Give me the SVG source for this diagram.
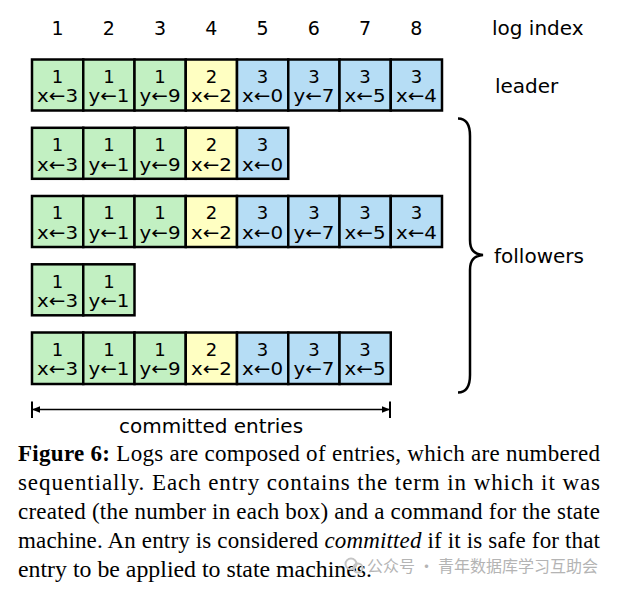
<svg xmlns="http://www.w3.org/2000/svg" width="619" height="592" viewBox="0 0 619 592">
<defs>
<style>
.c{stroke:#000;stroke-width:2.5}
.g{fill:#c2f0c2}
.y{fill:#ffffc2}
.b{fill:#b6ddf5}
.t{font-family:"DejaVu Sans",sans-serif;font-size:18px;text-anchor:middle;fill:#000}
.lbl{font-family:"DejaVu Sans",sans-serif;font-size:20px;fill:#000}
.idx{font-family:"DejaVu Sans",sans-serif;font-size:19px;text-anchor:middle;fill:#000}
.cap{font-family:"Liberation Serif","Times New Roman",serif;font-size:23px;fill:#000}
.wm{font-family:"Noto Sans CJK SC",sans-serif;font-size:16px;fill:#b4b4b4}
</style>
<marker id="ah" viewBox="0 0 10 10" refX="10" refY="5" markerWidth="8" markerHeight="8" markerUnits="userSpaceOnUse" orient="auto-start-reverse">
<path d="M0,1 L10,5 L0,9 Z" fill="#000"/>
</marker>
</defs>
<rect width="619" height="592" fill="#fff"/>

<g id="log-index">
<text class="idx" x="57.6" y="35">1</text>
<text class="idx" x="108.9" y="35">2</text>
<text class="idx" x="160.1" y="35">3</text>
<text class="idx" x="211.4" y="35">4</text>
<text class="idx" x="262.6" y="35">5</text>
<text class="idx" x="313.9" y="35">6</text>
<text class="idx" x="365.1" y="35">7</text>
<text class="idx" x="416.4" y="35">8</text>
<text class="lbl" x="492" y="35">log index</text>
</g>

<g id="leader">
<rect class="c g" x="32" y="59.5" width="51.25" height="51"/><text class="t" x="57.6" y="82.7">1</text><text class="t" x="57.6" y="102.3" textLength="41" lengthAdjust="spacingAndGlyphs">x←3</text>
<rect class="c g" x="83.25" y="59.5" width="51.25" height="51"/><text class="t" x="108.9" y="82.7">1</text><text class="t" x="108.9" y="102.3" textLength="41" lengthAdjust="spacingAndGlyphs">y←1</text>
<rect class="c g" x="134.5" y="59.5" width="51.25" height="51"/><text class="t" x="160.1" y="82.7">1</text><text class="t" x="160.1" y="102.3" textLength="41" lengthAdjust="spacingAndGlyphs">y←9</text>
<rect class="c y" x="185.75" y="59.5" width="51.25" height="51"/><text class="t" x="211.4" y="82.7">2</text><text class="t" x="211.4" y="102.3" textLength="41" lengthAdjust="spacingAndGlyphs">x←2</text>
<rect class="c b" x="237" y="59.5" width="51.25" height="51"/><text class="t" x="262.6" y="82.7">3</text><text class="t" x="262.6" y="102.3" textLength="41" lengthAdjust="spacingAndGlyphs">x←0</text>
<rect class="c b" x="288.25" y="59.5" width="51.25" height="51"/><text class="t" x="313.9" y="82.7">3</text><text class="t" x="313.9" y="102.3" textLength="41" lengthAdjust="spacingAndGlyphs">y←7</text>
<rect class="c b" x="339.5" y="59.5" width="51.25" height="51"/><text class="t" x="365.1" y="82.7">3</text><text class="t" x="365.1" y="102.3" textLength="41" lengthAdjust="spacingAndGlyphs">x←5</text>
<rect class="c b" x="390.75" y="59.5" width="51.25" height="51"/><text class="t" x="416.4" y="82.7">3</text><text class="t" x="416.4" y="102.3" textLength="41" lengthAdjust="spacingAndGlyphs">x←4</text>
<text class="lbl" x="495" y="92.7">leader</text>
</g>

<g id="follower-1">
<rect class="c g" x="32" y="127.8" width="51.25" height="51"/><text class="t" x="57.6" y="151">1</text><text class="t" x="57.6" y="170.6" textLength="41" lengthAdjust="spacingAndGlyphs">x←3</text>
<rect class="c g" x="83.25" y="127.8" width="51.25" height="51"/><text class="t" x="108.9" y="151">1</text><text class="t" x="108.9" y="170.6" textLength="41" lengthAdjust="spacingAndGlyphs">y←1</text>
<rect class="c g" x="134.5" y="127.8" width="51.25" height="51"/><text class="t" x="160.1" y="151">1</text><text class="t" x="160.1" y="170.6" textLength="41" lengthAdjust="spacingAndGlyphs">y←9</text>
<rect class="c y" x="185.75" y="127.8" width="51.25" height="51"/><text class="t" x="211.4" y="151">2</text><text class="t" x="211.4" y="170.6" textLength="41" lengthAdjust="spacingAndGlyphs">x←2</text>
<rect class="c b" x="237" y="127.8" width="51.25" height="51"/><text class="t" x="262.6" y="151">3</text><text class="t" x="262.6" y="170.6" textLength="41" lengthAdjust="spacingAndGlyphs">x←0</text>
</g>

<g id="follower-2">
<rect class="c g" x="32" y="196" width="51.25" height="51"/><text class="t" x="57.6" y="219.2">1</text><text class="t" x="57.6" y="238.8" textLength="41" lengthAdjust="spacingAndGlyphs">x←3</text>
<rect class="c g" x="83.25" y="196" width="51.25" height="51"/><text class="t" x="108.9" y="219.2">1</text><text class="t" x="108.9" y="238.8" textLength="41" lengthAdjust="spacingAndGlyphs">y←1</text>
<rect class="c g" x="134.5" y="196" width="51.25" height="51"/><text class="t" x="160.1" y="219.2">1</text><text class="t" x="160.1" y="238.8" textLength="41" lengthAdjust="spacingAndGlyphs">y←9</text>
<rect class="c y" x="185.75" y="196" width="51.25" height="51"/><text class="t" x="211.4" y="219.2">2</text><text class="t" x="211.4" y="238.8" textLength="41" lengthAdjust="spacingAndGlyphs">x←2</text>
<rect class="c b" x="237" y="196" width="51.25" height="51"/><text class="t" x="262.6" y="219.2">3</text><text class="t" x="262.6" y="238.8" textLength="41" lengthAdjust="spacingAndGlyphs">x←0</text>
<rect class="c b" x="288.25" y="196" width="51.25" height="51"/><text class="t" x="313.9" y="219.2">3</text><text class="t" x="313.9" y="238.8" textLength="41" lengthAdjust="spacingAndGlyphs">y←7</text>
<rect class="c b" x="339.5" y="196" width="51.25" height="51"/><text class="t" x="365.1" y="219.2">3</text><text class="t" x="365.1" y="238.8" textLength="41" lengthAdjust="spacingAndGlyphs">x←5</text>
<rect class="c b" x="390.75" y="196" width="51.25" height="51"/><text class="t" x="416.4" y="219.2">3</text><text class="t" x="416.4" y="238.8" textLength="41" lengthAdjust="spacingAndGlyphs">x←4</text>
</g>

<g id="follower-3">
<rect class="c g" x="32" y="264.3" width="51.25" height="51"/><text class="t" x="57.6" y="287.5">1</text><text class="t" x="57.6" y="307.1" textLength="41" lengthAdjust="spacingAndGlyphs">x←3</text>
<rect class="c g" x="83.25" y="264.3" width="51.25" height="51"/><text class="t" x="108.9" y="287.5">1</text><text class="t" x="108.9" y="307.1" textLength="41" lengthAdjust="spacingAndGlyphs">y←1</text>
</g>

<g id="follower-4">
<rect class="c g" x="32" y="332.5" width="51.25" height="51.5"/><text class="t" x="57.6" y="355.7">1</text><text class="t" x="57.6" y="375.3" textLength="41" lengthAdjust="spacingAndGlyphs">x←3</text>
<rect class="c g" x="83.25" y="332.5" width="51.25" height="51.5"/><text class="t" x="108.9" y="355.7">1</text><text class="t" x="108.9" y="375.3" textLength="41" lengthAdjust="spacingAndGlyphs">y←1</text>
<rect class="c g" x="134.5" y="332.5" width="51.25" height="51.5"/><text class="t" x="160.1" y="355.7">1</text><text class="t" x="160.1" y="375.3" textLength="41" lengthAdjust="spacingAndGlyphs">y←9</text>
<rect class="c y" x="185.75" y="332.5" width="51.25" height="51.5"/><text class="t" x="211.4" y="355.7">2</text><text class="t" x="211.4" y="375.3" textLength="41" lengthAdjust="spacingAndGlyphs">x←2</text>
<rect class="c b" x="237" y="332.5" width="51.25" height="51.5"/><text class="t" x="262.6" y="355.7">3</text><text class="t" x="262.6" y="375.3" textLength="41" lengthAdjust="spacingAndGlyphs">x←0</text>
<rect class="c b" x="288.25" y="332.5" width="51.25" height="51.5"/><text class="t" x="313.9" y="355.7">3</text><text class="t" x="313.9" y="375.3" textLength="41" lengthAdjust="spacingAndGlyphs">y←7</text>
<rect class="c b" x="339.5" y="332.5" width="51.25" height="51.5"/><text class="t" x="365.1" y="355.7">3</text><text class="t" x="365.1" y="375.3" textLength="41" lengthAdjust="spacingAndGlyphs">x←5</text>
</g>

<g id="followers-brace">
<path d="M458,118.5 C466,118.5 470,124 470,136 L470,240 C470,250 474,254 483,255 C474,256 470,260 470,270 L470,375 C470,386 466,392.5 458,392.5" fill="none" stroke="#000" stroke-width="2.5"/>
<text class="lbl" x="494" y="263">followers</text>
</g>

<g id="connectors">
<line x1="32" y1="409.5" x2="390" y2="409.5" stroke="#000" stroke-width="1.3" marker-start="url(#ah)" marker-end="url(#ah)"/>
<line x1="32" y1="401.5" x2="32" y2="418" stroke="#000" stroke-width="2"/>
<line x1="390" y1="401.5" x2="390" y2="418" stroke="#000" stroke-width="2"/>
</g>
<text class="lbl" x="211" y="433" text-anchor="middle">committed entries</text>

<g id="caption">
<text class="cap" x="18" y="461" textLength="582" lengthAdjust="spacing"><tspan font-weight="bold">Figure 6:</tspan> Logs are composed of entries, which are numbered</text>
<text class="cap" x="18" y="490" textLength="582" lengthAdjust="spacing">sequentially. Each entry contains the term in which it was</text>
<text class="cap" x="18" y="519" textLength="582" lengthAdjust="spacing">created (the number in each box) and a command for the state</text>
<text class="cap" x="18" y="548" textLength="582" lengthAdjust="spacing">machine. An entry is considered <tspan font-style="italic">committed</tspan> if it is safe for that</text>
<text class="cap" x="18" y="577" textLength="354" lengthAdjust="spacingAndGlyphs">entry to be applied to state machines.</text>
</g>

<g id="watermark">
<circle cx="351" cy="564" r="5.5" fill="none" stroke="#c4c4c4" stroke-width="2"/>
<circle cx="358" cy="568" r="4.5" fill="none" stroke="#c4c4c4" stroke-width="2"/>
<text class="wm" x="367" y="572" textLength="231" lengthAdjust="spacingAndGlyphs">公众号 · 青年数据库学习互助会</text>
</g>
</svg>
